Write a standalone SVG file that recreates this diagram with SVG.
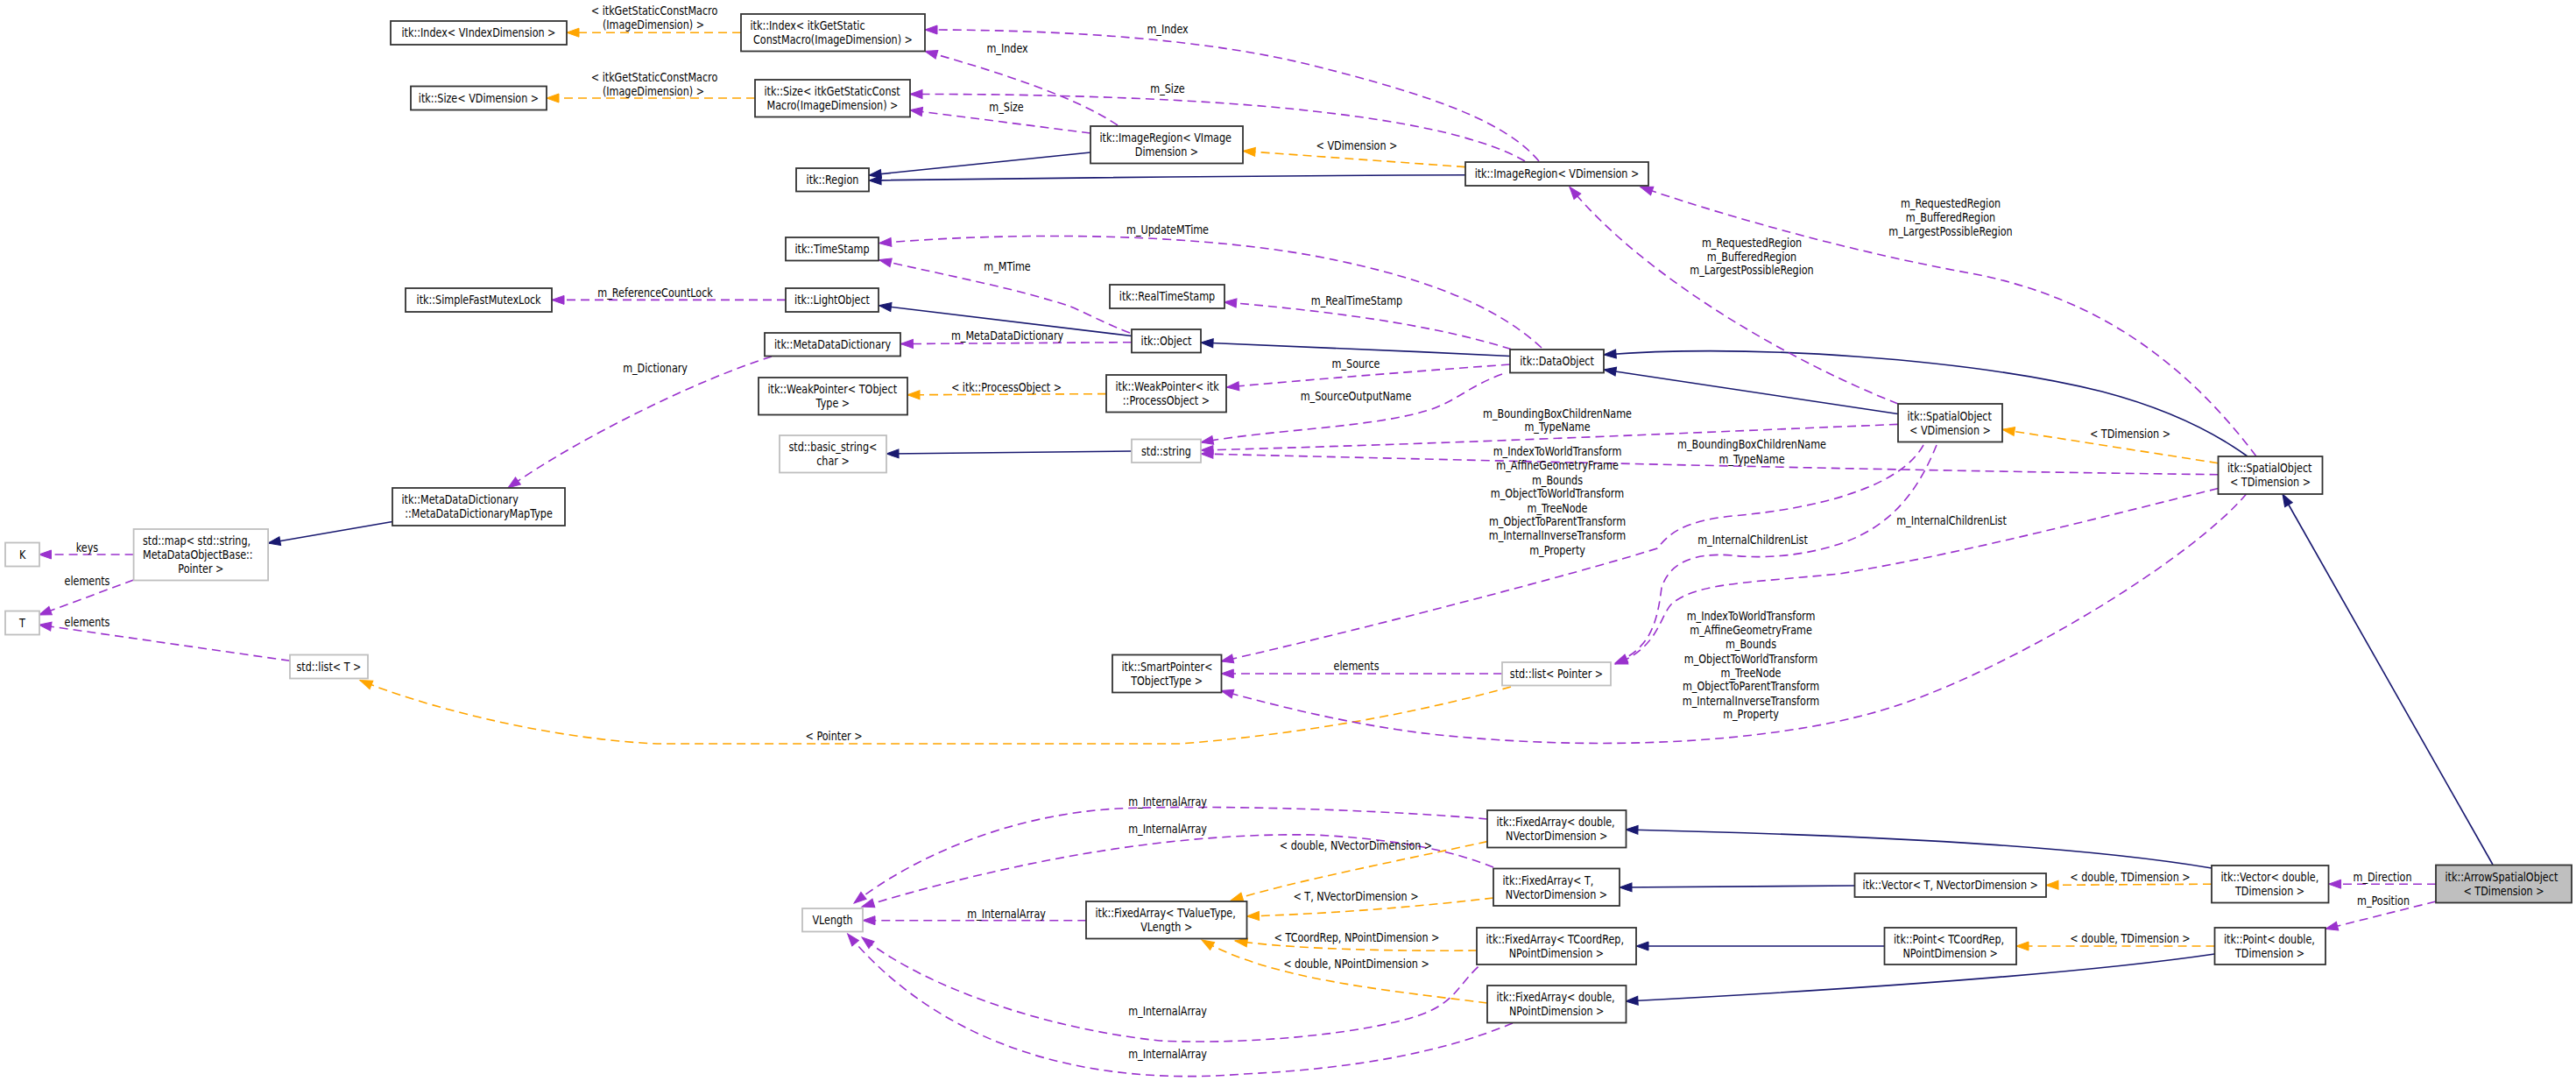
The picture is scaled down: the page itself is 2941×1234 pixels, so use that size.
<svg xmlns="http://www.w3.org/2000/svg" width="2941" height="1234" viewBox="0 0 2941 1234">
<style>
text { font-family: "DejaVu Sans", "Liberation Sans", sans-serif; font-size: 14px; fill: #000; transform-box: fill-box; transform: scaleX(0.8); }
.c { text-anchor: middle; transform-origin: center; }
.l { text-anchor: start; transform-origin: left center; }
.n rect { fill: #fff; stroke: #333; stroke-width: 1.8; }
.n.g rect { stroke: #bfbfbf; }
.n.f rect { fill: #bfbfbf; }
#edges path { fill: none; stroke-width: 1.6; }
#edges .inh { stroke: #191970; marker-end: url(#an); }
#edges .use { stroke: #9a32cd; stroke-dasharray: 10,6; marker-end: url(#ap); }
#edges .tpl { stroke: #ffa500; stroke-dasharray: 10,6; marker-end: url(#ao); }
</style>
<defs>
<marker id="an" markerUnits="userSpaceOnUse" markerWidth="14" markerHeight="10" refX="14" refY="5" orient="auto" overflow="visible"><path d="M0,0 L14,5 L0,10 z" fill="#191970" stroke="#191970" stroke-width="1"/></marker>
<marker id="ap" markerUnits="userSpaceOnUse" markerWidth="14" markerHeight="10" refX="14" refY="5" orient="auto" overflow="visible"><path d="M0,0 L14,5 L0,10 z" fill="#9a32cd" stroke="#9a32cd" stroke-width="1"/></marker>
<marker id="ao" markerUnits="userSpaceOnUse" markerWidth="14" markerHeight="10" refX="14" refY="5" orient="auto" overflow="visible"><path d="M0,0 L14,5 L0,10 z" fill="#ffa500" stroke="#ffa500" stroke-width="1"/></marker>
</defs>
<rect width="2941" height="1234" fill="#fff"/>
<g id="edges">
<path class="inh" d="M1245,174 L992,200"/>
<path class="inh" d="M1673,199.7 Q1350,201 992,206"/>
<path class="inh" d="M1292,383.5 L1003.5,348.8"/>
<path class="inh" d="M1724,406.5 C1600,400 1450,395 1371,391"/>
<path class="inh" d="M2167,472.5 L1831,422"/>
<path class="inh" d="M2566,521 C2530,495 2480,468 2400,447 C2250,410 2000,392 1831,405"/>
<path class="inh" d="M2846,987 L2606,564"/>
<path class="inh" d="M1292,515 L1012,518"/>
<path class="inh" d="M448,595.5 L306,620"/>
<path class="inh" d="M2525,991 C2400,970 2200,955 1856,947"/>
<path class="inh" d="M2117.5,1011 L1849,1013"/>
<path class="inh" d="M2151.5,1080 L1868,1080"/>
<path class="inh" d="M2528.5,1089 C2400,1108 2200,1125 1856,1143"/>
<path class="tpl" d="M846,37.2 L647,37.2"/>
<path class="tpl" d="M862,112 L624,112"/>
<path class="tpl" d="M1673,190.6 L1419,172.4"/>
<path class="tpl" d="M1263,449.6 L1036,450.8"/>
<path class="tpl" d="M2532.5,528.7 L2286,490.3"/>
<path class="tpl" d="M1725,784 C1650,805 1520,835 1348,849 L750,849 C620,843 480,805 411,776.6"/>
<path class="tpl" d="M1698,960.6 C1600,982 1480,1005 1405,1028"/>
<path class="tpl" d="M1705,1025 C1620,1035 1520,1043 1423.5,1046"/>
<path class="tpl" d="M1686,1085 C1600,1086 1480,1084 1410,1074"/>
<path class="tpl" d="M1698,1145 C1580,1130 1450,1118 1372,1073"/>
<path class="tpl" d="M2525,1009.2 L2336,1010.4"/>
<path class="tpl" d="M2528.5,1080 L2302,1080"/>
<path class="use" d="M1276,143 C1230,112 1150,85 1056,58.5"/>
<path class="use" d="M1757,184 C1720,140 1640,110 1500,75 C1380,45 1220,34 1056,34"/>
<path class="use" d="M1245,152 L1039,125.7"/>
<path class="use" d="M1741,184 C1700,160 1620,140 1500,127 C1380,113 1200,107 1039,107.5"/>
<path class="use" d="M1290,380 C1250,365 1230,350 1200,343 C1140,325 1060,310 1003.5,296.6"/>
<path class="use" d="M1760,397 C1720,360 1650,320 1500,292 C1350,265 1150,265 1003.5,277.6"/>
<path class="use" d="M897,342.4 L630,342.4"/>
<path class="use" d="M1725,398.6 C1650,375 1550,358 1397.6,344.8"/>
<path class="use" d="M1292,390.7 L1028.4,392.6"/>
<path class="use" d="M881,407 C800,432 660,500 580,557"/>
<path class="use" d="M1724,416 C1600,425 1500,433 1400.5,442"/>
<path class="use" d="M1715,427 C1680,440 1665,455 1640,465 C1580,488 1450,490 1371,505"/>
<path class="use" d="M2167,484.4 C1900,495 1700,505 1371,514"/>
<path class="use" d="M2532.5,541.7 C2200,538 1800,528 1371,518"/>
<path class="use" d="M2167,461 C2050,415 1880,320 1792,213.5"/>
<path class="use" d="M2576,521 C2500,420 2400,340 2250,312 C2100,285 1950,240 1873,213.5"/>
<path class="use" d="M2196,508 C2170,555 2080,580 1978,589 C1920,595 1905,610 1892,626 C1800,655 1550,720 1394,755"/>
<path class="use" d="M2565,563.5 C2500,640 2300,760 2170,804 C2050,845 1850,860 1643,839 C1560,830 1480,812 1394,788.4"/>
<path class="use" d="M2211,508 C2190,560 2160,600 2103,620 C2060,635 2010,638 1978,634 C1930,630 1905,645 1897,671 C1892,710 1885,740 1844,757"/>
<path class="use" d="M2532.5,557.5 C2400,590 2250,630 2100,655 C2000,665 1940,665 1910,688 C1895,700 1895,740 1844,758"/>
<path class="use" d="M1715,769 L1394.3,769"/>
<path class="use" d="M152.6,633 L44.5,633"/>
<path class="use" d="M152.6,662 L44.5,702"/>
<path class="use" d="M331,754.3 L44.5,713.2"/>
<path class="use" d="M1240.3,1050.7 L985,1050.7"/>
<path class="use" d="M1698,935 C1600,926 1400,918 1276,923 C1150,930 1040,980 975,1031"/>
<path class="use" d="M1705,990 C1660,972 1600,958 1500,953 C1330,950 1150,985 984,1035"/>
<path class="use" d="M1687.5,1103.6 C1660,1130 1660,1150 1600,1165 C1520,1185 1400,1192 1324,1188 C1200,1175 1060,1130 984,1070"/>
<path class="use" d="M1727,1168 C1650,1200 1550,1220 1420,1226 C1250,1240 1080,1200 967.6,1066"/>
<path class="use" d="M2781,1009.2 L2658.6,1009.2"/>
<path class="use" d="M2781,1029 L2655,1060.5"/>
<g id="edge-labels">
<text class="c" x="747" y="17.5">&lt; itkGetStaticConstMacro</text>
<text class="c" x="746" y="33.5">(ImageDimension) &gt;</text>
<text class="c" x="747" y="92.8">&lt; itkGetStaticConstMacro</text>
<text class="c" x="746" y="108.6">(ImageDimension) &gt;</text>
<text class="c" x="1150" y="60">m_Index</text>
<text class="c" x="1333" y="38">m_Index</text>
<text class="c" x="1149" y="127.5">m_Size</text>
<text class="c" x="1333" y="106">m_Size</text>
<text class="c" x="1549" y="171.5">&lt; VDimension &gt;</text>
<text class="c" x="1333" y="267.5">m_UpdateMTime</text>
<text class="c" x="1150" y="309.5">m_MTime</text>
<text class="c" x="748" y="339.5">m_ReferenceCountLock</text>
<text class="c" x="1549" y="348">m_RealTimeStamp</text>
<text class="c" x="1150" y="388.5">m_MetaDataDictionary</text>
<text class="c" x="748" y="425.5">m_Dictionary</text>
<text class="c" x="1149" y="447.5">&lt; itk::ProcessObject &gt;</text>
<text class="c" x="1548" y="420.5">m_Source</text>
<text class="c" x="1548" y="457.5">m_SourceOutputName</text>
<text class="c" x="1778" y="476.7">m_BoundingBoxChildrenName</text>
<text class="c" x="1778" y="492.5">m_TypeName</text>
<text class="c" x="2000" y="512.3">m_BoundingBoxChildrenName</text>
<text class="c" x="2000" y="529">m_TypeName</text>
<text class="c" x="2000" y="281.8">m_RequestedRegion</text>
<text class="c" x="2000" y="297.6">m_BufferedRegion</text>
<text class="c" x="2000" y="313.4">m_LargestPossibleRegion</text>
<text class="c" x="2227" y="236.7">m_RequestedRegion</text>
<text class="c" x="2227" y="252.9">m_BufferedRegion</text>
<text class="c" x="2227" y="268.7">m_LargestPossibleRegion</text>
<text class="c" x="2432" y="499.6">&lt; TDimension &gt;</text>
<text class="c" x="1778" y="520">m_IndexToWorldTransform</text>
<text class="c" x="1778" y="536.4">m_AffineGeometryFrame</text>
<text class="c" x="1778" y="552.6">m_Bounds</text>
<text class="c" x="1778" y="568.5">m_ObjectToWorldTransform</text>
<text class="c" x="1778" y="584.7">m_TreeNode</text>
<text class="c" x="1778" y="600.5">m_ObjectToParentTransform</text>
<text class="c" x="1778" y="616.3">m_InternalInverseTransform</text>
<text class="c" x="1778" y="632.8">m_Property</text>
<text class="c" x="1999" y="708.4">m_IndexToWorldTransform</text>
<text class="c" x="1999" y="724.5">m_AffineGeometryFrame</text>
<text class="c" x="1999" y="740.5">m_Bounds</text>
<text class="c" x="1999" y="756.6">m_ObjectToWorldTransform</text>
<text class="c" x="1999" y="772.6">m_TreeNode</text>
<text class="c" x="1999" y="788.5">m_ObjectToParentTransform</text>
<text class="c" x="1999" y="804.6">m_InternalInverseTransform</text>
<text class="c" x="1999" y="820.4">m_Property</text>
<text class="c" x="2001" y="621">m_InternalChildrenList</text>
<text class="c" x="2228" y="599.3">m_InternalChildrenList</text>
<text class="c" x="1548.6" y="765.2">elements</text>
<text class="c" x="99.5" y="629.7">keys</text>
<text class="c" x="99.5" y="668.5">elements</text>
<text class="c" x="99.5" y="715.4">elements</text>
<text class="c" x="952" y="845.4">&lt; Pointer &gt;</text>
<text class="c" x="1149" y="1048">m_InternalArray</text>
<text class="c" x="1333" y="919.8">m_InternalArray</text>
<text class="c" x="1333" y="951.5">m_InternalArray</text>
<text class="c" x="1333" y="1159.5">m_InternalArray</text>
<text class="c" x="1333" y="1207.6">m_InternalArray</text>
<text class="c" x="1548" y="969.6">&lt; double, NVectorDimension &gt;</text>
<text class="c" x="1548" y="1028.3">&lt; T, NVectorDimension &gt;</text>
<text class="c" x="1549" y="1075.3">&lt; TCoordRep, NPointDimension &gt;</text>
<text class="c" x="1548.5" y="1104.6">&lt; double, NPointDimension &gt;</text>
<text class="c" x="2432" y="1005.6">&lt; double, TDimension &gt;</text>
<text class="c" x="2432" y="1076.5">&lt; double, TDimension &gt;</text>
<text class="c" x="2720" y="1005.6">m_Direction</text>
<text class="c" x="2721" y="1032.6">m_Position</text>
</g>
</g>
<g id="n_idx_v" class="n"><rect x="446" y="24" width="201" height="27"/><text class="c" x="546.5" y="42.5">itk::Index&lt; VIndexDimension &gt;</text></g>
<g id="n_size_v" class="n"><rect x="469" y="98.5" width="155" height="27"/><text class="c" x="546.5" y="117">itk::Size&lt; VDimension &gt;</text></g>
<g id="n_region" class="n"><rect x="909" y="192" width="83" height="26.5"/><text class="c" x="950.5" y="210.25">itk::Region</text></g>
<g id="n_idx_g" class="n"><rect x="846" y="16" width="210" height="42.5"/><text class="l" x="856.5" y="34.25">itk::Index&lt; itkGetStatic</text><text class="c" x="951" y="50.25">ConstMacro(ImageDimension) &gt;</text></g>
<g id="n_size_g" class="n"><rect x="862" y="91" width="177" height="42.5"/><text class="l" x="872.5" y="109.25">itk::Size&lt; itkGetStaticConst</text><text class="c" x="950.5" y="125.25">Macro(ImageDimension) &gt;</text></g>
<g id="n_imgreg_vi" class="n"><rect x="1245" y="144" width="174" height="42.5"/><text class="l" x="1255.5" y="162.25">itk::ImageRegion&lt; VImage</text><text class="c" x="1332" y="178.25">Dimension &gt;</text></g>
<g id="n_imgreg_v" class="n"><rect x="1673" y="185" width="209" height="27"/><text class="c" x="1777.5" y="203.5">itk::ImageRegion&lt; VDimension &gt;</text></g>
<g id="n_timestamp" class="n"><rect x="897" y="271" width="106" height="26.5"/><text class="c" x="950" y="289.25">itk::TimeStamp</text></g>
<g id="n_sfml" class="n"><rect x="463" y="329" width="167" height="27"/><text class="c" x="546.5" y="347.5">itk::SimpleFastMutexLock</text></g>
<g id="n_lightobject" class="n"><rect x="897" y="329" width="106" height="27"/><text class="c" x="950" y="347.5">itk::LightObject</text></g>
<g id="n_realtimestamp" class="n"><rect x="1267" y="325" width="131" height="27"/><text class="c" x="1332.5" y="343.5">itk::RealTimeStamp</text></g>
<g id="n_mdd" class="n"><rect x="873" y="380" width="155" height="26.5"/><text class="c" x="950.5" y="398.25">itk::MetaDataDictionary</text></g>
<g id="n_object" class="n"><rect x="1292" y="376" width="79" height="26.5"/><text class="c" x="1331.5" y="394.25">itk::Object</text></g>
<g id="n_dataobject" class="n"><rect x="1724" y="399" width="107" height="26.5"/><text class="c" x="1777.5" y="417.25">itk::DataObject</text></g>
<g id="n_wp_t" class="n"><rect x="866" y="431" width="170" height="42.5"/><text class="l" x="876.5" y="449.25">itk::WeakPointer&lt; TObject</text><text class="c" x="951" y="465.25">Type &gt;</text></g>
<g id="n_wp_po" class="n"><rect x="1263" y="428" width="137" height="42.5"/><text class="l" x="1273.5" y="446.25">itk::WeakPointer&lt; itk</text><text class="c" x="1331.5" y="462.25">::ProcessObject &gt;</text></g>
<g id="n_basic_string" class="n g"><rect x="890" y="497" width="122" height="42.5"/><text class="l" x="900.5" y="515.25">std::basic_string&lt;</text><text class="c" x="951" y="531.25">char &gt;</text></g>
<g id="n_string" class="n g"><rect x="1292" y="501.5" width="79" height="26.5"/><text class="c" x="1331.5" y="519.75">std::string</text></g>
<g id="n_so_v" class="n"><rect x="2167" y="461" width="119" height="43.5"/><text class="l" x="2177.5" y="479.75">itk::SpatialObject</text><text class="c" x="2226.5" y="495.75">&lt; VDimension &gt;</text></g>
<g id="n_so_t" class="n"><rect x="2532.5" y="521" width="119" height="43"/><text class="l" x="2543" y="539.5">itk::SpatialObject</text><text class="c" x="2592" y="555.5">&lt; TDimension &gt;</text></g>
<g id="n_mddmap" class="n"><rect x="448" y="557" width="197" height="43"/><text class="l" x="458.5" y="575.5">itk::MetaDataDictionary</text><text class="c" x="546.5" y="591.5">::MetaDataDictionaryMapType</text></g>
<g id="n_k" class="n g"><rect x="6" y="619.5" width="39" height="27"/><text class="c" x="25.5" y="638">K</text></g>
<g id="n_map" class="n g"><rect x="152.6" y="604" width="153.5" height="58.5"/><text class="l" x="163" y="622.25">std::map&lt; std::string,</text><text class="l" x="163" y="638.25">MetaDataObjectBase::</text><text class="c" x="229.4" y="654.25">Pointer &gt;</text></g>
<g id="n_t" class="n g"><rect x="6" y="697.5" width="39" height="27"/><text class="c" x="25.5" y="716">T</text></g>
<g id="n_list_t" class="n g"><rect x="331" y="747.5" width="89" height="27"/><text class="c" x="375.5" y="766">std::list&lt; T &gt;</text></g>
<g id="n_smartptr" class="n"><rect x="1270" y="747.5" width="124.5" height="43"/><text class="l" x="1280.5" y="766">itk::SmartPointer&lt;</text><text class="c" x="1332.25" y="782">TObjectType &gt;</text></g>
<g id="n_list_p" class="n g"><rect x="1715" y="756" width="124" height="26.5"/><text class="c" x="1777" y="774.25">std::list&lt; Pointer &gt;</text></g>
<g id="n_vlength" class="n g"><rect x="916" y="1037" width="69" height="26.5"/><text class="c" x="950.5" y="1055.25">VLength</text></g>
<g id="n_fa_tv" class="n"><rect x="1240" y="1029" width="183.5" height="42.5"/><text class="l" x="1250.5" y="1047.25">itk::FixedArray&lt; TValueType,</text><text class="c" x="1331.75" y="1063.25">VLength &gt;</text></g>
<g id="n_fa_dnv" class="n"><rect x="1698" y="925" width="158.5" height="42.5"/><text class="l" x="1708.5" y="943.25">itk::FixedArray&lt; double,</text><text class="c" x="1777.25" y="959.25">NVectorDimension &gt;</text></g>
<g id="n_fa_tnv" class="n"><rect x="1705" y="991.5" width="144" height="42.5"/><text class="l" x="1715.5" y="1009.75">itk::FixedArray&lt; T,</text><text class="c" x="1777" y="1025.75">NVectorDimension &gt;</text></g>
<g id="n_fa_tcnp" class="n"><rect x="1686" y="1059" width="182" height="42"/><text class="l" x="1696.5" y="1077">itk::FixedArray&lt; TCoordRep,</text><text class="c" x="1777" y="1093">NPointDimension &gt;</text></g>
<g id="n_fa_dnp" class="n"><rect x="1698" y="1125" width="158.5" height="42.5"/><text class="l" x="1708.5" y="1143.25">itk::FixedArray&lt; double,</text><text class="c" x="1777.25" y="1159.25">NPointDimension &gt;</text></g>
<g id="n_vec_tnv" class="n"><rect x="2117.5" y="997" width="218.5" height="27"/><text class="c" x="2226.75" y="1015.5">itk::Vector&lt; T, NVectorDimension &gt;</text></g>
<g id="n_pt_tcnp" class="n"><rect x="2151.5" y="1059" width="150.5" height="42"/><text class="l" x="2162" y="1077">itk::Point&lt; TCoordRep,</text><text class="c" x="2226.75" y="1093">NPointDimension &gt;</text></g>
<g id="n_vec_dtd" class="n"><rect x="2525" y="988" width="133.5" height="42.5"/><text class="l" x="2535.5" y="1006.25">itk::Vector&lt; double,</text><text class="c" x="2591.75" y="1022.25">TDimension &gt;</text></g>
<g id="n_pt_dtd" class="n"><rect x="2528.5" y="1059" width="126.5" height="42"/><text class="l" x="2539" y="1077">itk::Point&lt; double,</text><text class="c" x="2591.75" y="1093">TDimension &gt;</text></g>
<g id="n_arrow" class="n f"><rect x="2781" y="987.5" width="155" height="43"/><text class="l" x="2791.5" y="1006">itk::ArrowSpatialObject</text><text class="c" x="2858.5" y="1022">&lt; TDimension &gt;</text></g>
</svg>
